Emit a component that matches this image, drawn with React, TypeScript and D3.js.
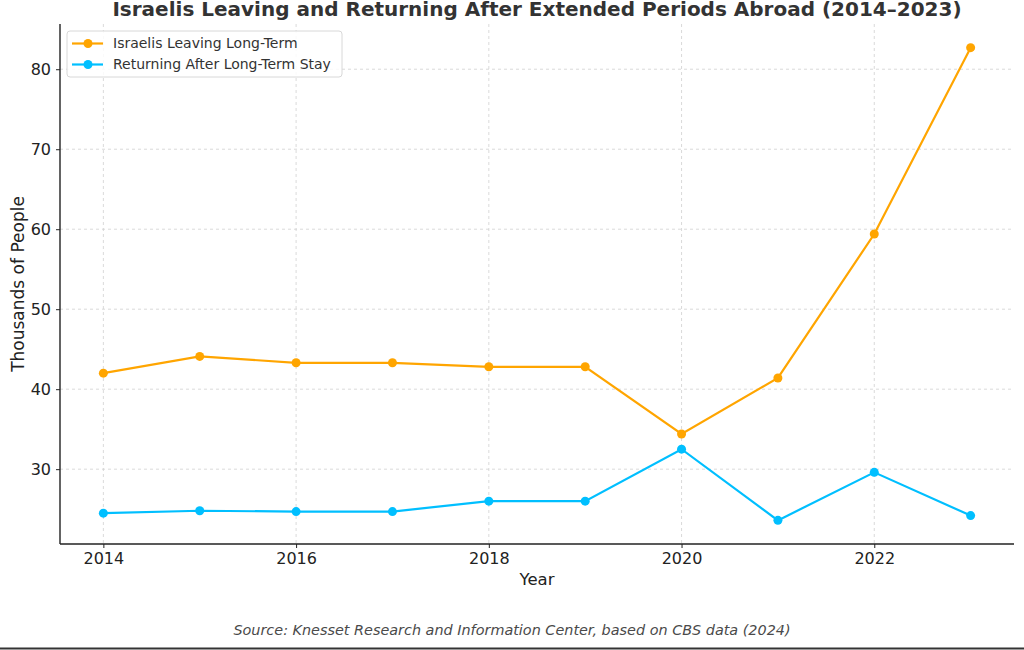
import { useEffect, useRef } from "react"
import * as d3 from "d3"

const years = [2014, 2015, 2016, 2017, 2018, 2019, 2020, 2021, 2022, 2023]
const leaving = [42.0, 44.1, 43.3, 43.3, 42.8, 42.8, 34.4, 41.4, 59.4, 82.7]
const returning = [24.5, 24.8, 24.7, 24.7, 26.0, 26.0, 32.5, 23.6, 29.6, 24.2]
const xTicks = [2014, 2016, 2018, 2020, 2022]
const yTicks = [30, 40, 50, 60, 70, 80]

const seriesList = [
  { label: "Israelis Leaving Long-Term", values: leaving, color: "#FFA500" },
  { label: "Returning After Long-Term Stay", values: returning, color: "#00BFFF" },
]

const W = 1024
const H = 650
const FONT = "'DejaVu Sans', sans-serif"

export default function App() {
  const svgRef = useRef<SVGSVGElement>(null)

  useEffect(() => {
    if (!svgRef.current) return
    const root = d3.select(svgRef.current)
    root.selectAll("*").remove()

    const margin = { top: 24, right: 10, bottom: 106, left: 60 }
    const innerW = W - margin.left - margin.right
    const innerH = H - margin.top - margin.bottom

    // matplotlib-like 5% padding around data
    const xPad = (d3.max(years)! - d3.min(years)!) * 0.05
    const allVals = [...leaving, ...returning]
    const yMin = d3.min(allVals)!
    const yMax = d3.max(allVals)!
    const yPad = (yMax - yMin) * 0.05

    const x = d3
      .scaleLinear()
      .domain([d3.min(years)! - xPad, d3.max(years)! + xPad])
      .range([0, innerW])
    const y = d3
      .scaleLinear()
      .domain([yMin - yPad, yMax + yPad])
      .range([innerH, 0])

    root.append("rect").attr("width", W).attr("height", H).attr("fill", "#fff")

    const g = root.append("g").attr("transform", `translate(${margin.left},${margin.top})`)

    // Grid
    g.append("g")
      .selectAll("line")
      .data(yTicks)
      .join("line")
      .attr("x1", 0)
      .attr("x2", innerW)
      .attr("y1", (d) => y(d))
      .attr("y2", (d) => y(d))
      .attr("stroke", "#d0d0d0")
      .attr("stroke-width", 0.8)
      .attr("stroke-dasharray", "3,3")
    g.append("g")
      .selectAll("line")
      .data(xTicks)
      .join("line")
      .attr("x1", (d) => x(d))
      .attr("x2", (d) => x(d))
      .attr("y1", 0)
      .attr("y2", innerH)
      .attr("stroke", "#d0d0d0")
      .attr("stroke-width", 0.8)
      .attr("stroke-dasharray", "3,3")

    // Lines + markers
    const line = d3
      .line<number>()
      .x((_, i) => x(years[i]))
      .y((d) => y(d))

    seriesList.forEach((s) => {
      g.append("path")
        .datum(s.values)
        .attr("fill", "none")
        .attr("stroke", s.color)
        .attr("stroke-width", 2.2)
        .attr("d", line)
      g.append("g")
        .selectAll("circle")
        .data(s.values)
        .join("circle")
        .attr("cx", (_, i) => x(years[i]))
        .attr("cy", (d) => y(d))
        .attr("r", 4.5)
        .attr("fill", s.color)
    })

    // Axes
    const xAxis = g
      .append("g")
      .attr("transform", `translate(0,${innerH})`)
      .call(d3.axisBottom(x).tickValues(xTicks).tickFormat(d3.format("d")).tickSize(4).tickPadding(5))
    const yAxis = g
      .append("g")
      .call(d3.axisLeft(y).tickValues(yTicks).tickSize(4).tickPadding(5))
    ;[xAxis, yAxis].forEach((a) => {
      a.select(".domain").attr("stroke", "#222").attr("stroke-width", 1.4)
      a.selectAll(".tick line").attr("stroke", "#222").attr("stroke-width", 1)
      a.selectAll("text").attr("font-family", FONT).attr("font-size", 16).attr("fill", "#222")
    })
    // d3 domain includes outer ticks; make them flat
    xAxis.select(".domain").attr("d", `M0,0H${innerW}`)
    yAxis.select(".domain").attr("d", `M0,${innerH}V0`)

    // Legend
    const lg = g.append("g").attr("transform", "translate(7,7)")
    lg.append("rect")
      .attr("width", 275)
      .attr("height", 46)
      .attr("rx", 3)
      .attr("fill", "#fff")
      .attr("fill-opacity", 0.85)
      .attr("stroke", "#d8d8d8")
    seriesList.forEach((s, i) => {
      const row = lg.append("g").attr("transform", `translate(0,${12.5 + i * 21})`)
      row.append("line").attr("x1", 5).attr("x2", 36).attr("stroke", s.color).attr("stroke-width", 2.2)
      row.append("circle").attr("cx", 21).attr("r", 4.5).attr("fill", s.color)
      row
        .append("text")
        .attr("x", 46)
        .attr("dy", "0.35em")
        .attr("font-family", FONT)
        .attr("font-size", 14)
        .attr("fill", "#333")
        .text(s.label)
    })

    // Titles
    root
      .append("text")
      .attr("x", margin.left + innerW / 2)
      .attr("y", 16)
      .attr("text-anchor", "middle")
      .attr("font-family", FONT)
      .attr("font-weight", "bold")
      .attr("font-size", 20)
      .attr("fill", "#333")
      .text("Israelis Leaving and Returning After Extended Periods Abroad (2014–2023)")

    root
      .append("text")
      .attr("x", margin.left + innerW / 2)
      .attr("y", 585)
      .attr("text-anchor", "middle")
      .attr("font-family", FONT)
      .attr("font-size", 16.5)
      .attr("fill", "#222")
      .text("Year")

    root
      .append("text")
      .attr("transform", `translate(24,${margin.top + innerH / 2}) rotate(-90)`)
      .attr("text-anchor", "middle")
      .attr("font-family", FONT)
      .attr("font-size", 17)
      .attr("fill", "#222")
      .text("Thousands of People")

    root
      .append("text")
      .attr("x", 512)
      .attr("y", 635)
      .attr("text-anchor", "middle")
      .attr("font-family", FONT)
      .attr("font-style", "italic")
      .attr("font-size", 14.4)
      .attr("fill", "#4a4a4a")
      .text("Source: Knesset Research and Information Center, based on CBS data (2024)")

    root
      .append("line")
      .attr("x1", 0)
      .attr("x2", W)
      .attr("y1", 648.5)
      .attr("y2", 648.5)
      .attr("stroke", "#333")
      .attr("stroke-width", 2)
  }, [])

  return (
    <div style={{ position: "absolute", left: 0, top: 0 }}>
      <svg ref={svgRef} width={W} height={H} style={{ display: "block" }} />
    </div>
  )
}
